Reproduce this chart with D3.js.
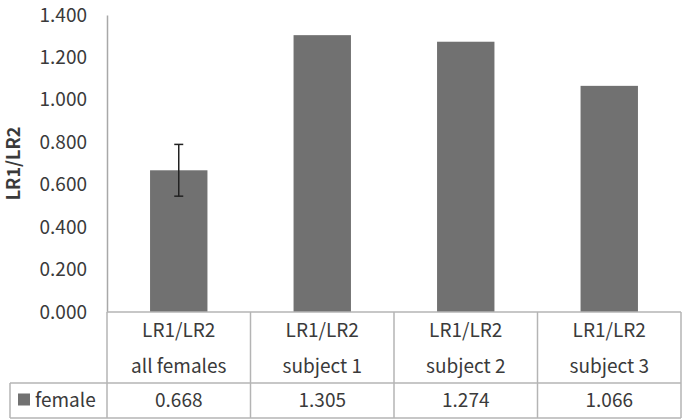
<!DOCTYPE html>
<html lang="en">
<head>
<meta charset="UTF-8">
<script src="https://d3js.org/d3.v7.min.js"></script>
<title>LR1/LR2</title>
<style>
html, body { margin: 0; padding: 0; background: #fff; }
svg { display: block; }
text { font-family: 'Noto Sans CJK KR', 'Noto Sans', sans-serif; fill: #3a3a3a; }
</style>
</head>
<body>
<svg id="canvas"></svg>
<script>
let categories = ['all females', 'subject 1', 'subject 2', 'subject 3']
let catPrefix = 'LR1/LR2'
let values = [0.668, 1.305, 1.274, 1.066]
let errors = [0.122, null, null, null]
let yTicks = [0, 0.2, 0.4, 0.6, 0.8, 1.0, 1.2, 1.4]
let seriesName = 'female'
let yTitle = 'LR1/LR2'

let width = 688
let height = 420
let plotLeft = 107
let plotRight = 681
let plotTop = 15
let base = 312
let rowMid = 383
let rowEnd = 418
let tableLeft = 10

let barColor = '#717171'
let gridColor = '#b4b4b4'

let svg = d3.select('#canvas').attr('width', width).attr('height', height)

let xScale = d3.scaleBand()
    .domain(categories)
    .range([plotLeft, plotRight])
    .padding(0)

let yScale = d3.scaleLinear()
    .domain([0, 1.4])
    .range([base, plotTop])

let bw = xScale.bandwidth()

// bars
svg.selectAll('.bar')
    .data(values)
    .enter()
    .append('rect')
    .attr('class', 'bar')
    .attr('x', (d, i) => xScale(categories[i]) + bw * 0.3)
    .attr('width', bw * 0.4)
    .attr('y', d => yScale(d))
    .attr('height', d => base - yScale(d))
    .attr('fill', barColor)

// error bars
let errG = svg.append('g')
values.forEach((v, i) => {
    if (errors[i] == null) return
    let cx = xScale(categories[i]) + bw / 2
    let y1 = yScale(v + errors[i])
    let y2 = yScale(v - errors[i])
    errG.append('line').attr('x1', cx).attr('x2', cx).attr('y1', y1).attr('y2', y2)
        .attr('stroke', '#222').attr('stroke-width', 1.5)
    ;[y1, y2].forEach(y => {
        errG.append('line').attr('x1', cx - 4.5).attr('x2', cx + 4.5).attr('y1', y).attr('y2', y)
            .attr('stroke', '#222').attr('stroke-width', 1.5)
    })
})

// y axis
let yAxis = d3.axisLeft(yScale)
    .tickValues(yTicks)
    .tickFormat(d3.format('.3f'))
    .tickSize(0)
    .tickPadding(20)

let yg = svg.append('g')
    .attr('transform', 'translate(' + plotLeft + ',0)')
    .call(yAxis)
yg.select('.domain').attr('stroke', '#a8a8a8').attr('stroke-width', 1.5)
yg.selectAll('text')
    .attr('font-size', 19)
    .attr('fill', '#3a3a3a')
    .style('font-family', "'Noto Sans CJK KR', sans-serif")

svg.append('text')
    .attr('transform', 'translate(20,' + ((plotTop + base) / 2) + ') rotate(-90)')
    .attr('text-anchor', 'middle')
    .attr('font-size', 18)
    .attr('font-weight', 'bold')
    .attr('fill', '#222')
    .text(yTitle)

// data table
let tg = svg.append('g').attr('stroke', gridColor).attr('stroke-width', 1.5)
tg.append('line').attr('x1', plotLeft).attr('x2', plotRight).attr('y1', base).attr('y2', base)
tg.append('line').attr('x1', tableLeft).attr('x2', plotRight).attr('y1', rowMid).attr('y2', rowMid)
tg.append('line').attr('x1', tableLeft).attr('x2', plotRight).attr('y1', rowEnd).attr('y2', rowEnd)
tg.append('line').attr('x1', tableLeft).attr('x2', tableLeft).attr('y1', rowMid).attr('y2', rowEnd)
tg.append('line').attr('x1', plotLeft).attr('x2', plotLeft).attr('y1', base).attr('y2', rowEnd)
categories.forEach(c => {
    let x = xScale(c) + bw
    tg.append('line').attr('x1', x).attr('x2', x).attr('y1', base).attr('y2', rowEnd)
})

categories.forEach((c, i) => {
    let cx = xScale(c) + bw / 2
    svg.append('text').attr('x', cx).attr('y', 330).attr('dy', '0.35em')
        .attr('text-anchor', 'middle').attr('font-size', 19).text(catPrefix)
    svg.append('text').attr('x', cx).attr('y', 366).attr('dy', '0.35em')
        .attr('text-anchor', 'middle').attr('font-size', 19).text(c)
    svg.append('text').attr('x', cx).attr('y', 400.5).attr('dy', '0.35em')
        .attr('text-anchor', 'middle').attr('font-size', 19).text(d3.format('.3f')(values[i]))
})

// legend key
svg.append('rect').attr('x', 18).attr('y', 393.5).attr('width', 12).attr('height', 12).attr('fill', barColor)
svg.append('text').attr('x', 35).attr('y', 400.5).attr('dy', '0.35em')
    .attr('font-size', 19).text(seriesName)
</script>
</body>
</html>
